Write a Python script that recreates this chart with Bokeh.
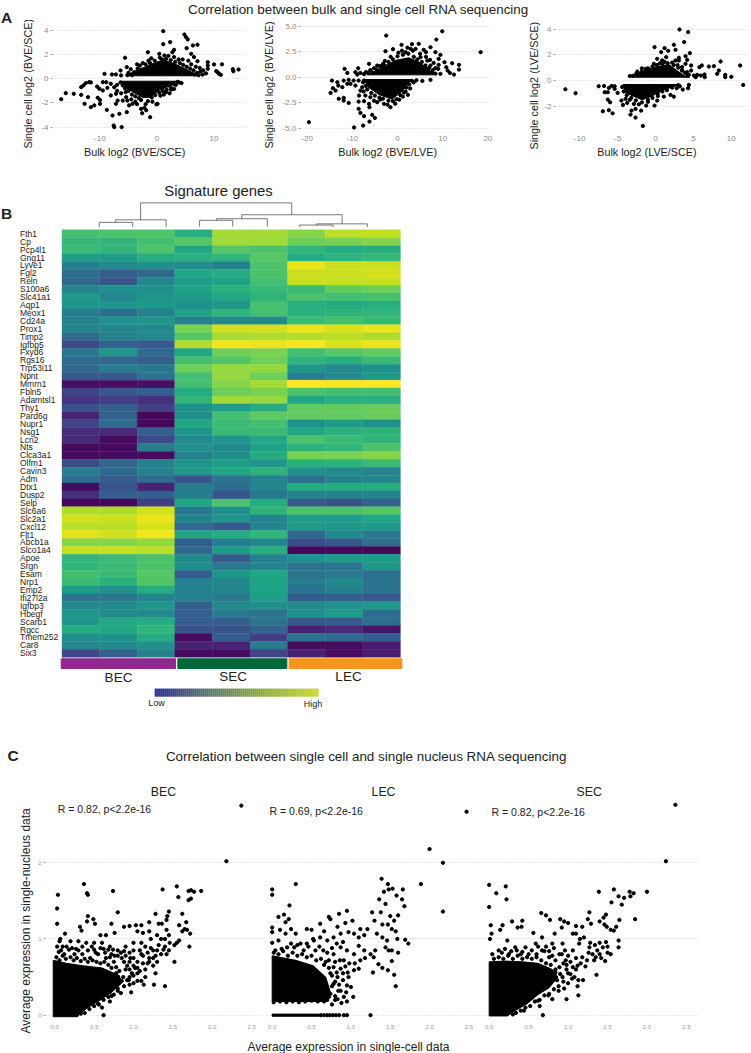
from math import pi
from bokeh.plotting import figure
from bokeh.layouts import column, row, Spacer
from bokeh.models import Range1d, FixedTicker, Label, ColumnDataSource, LinearColorMapper, Title
from bokeh.palettes import Viridis256
from bokeh.core.properties import value
from bokeh.embed import file_html
from bokeh.resources import INLINE

FONT = "Liberation Sans"

# ---------- Panel A data; masses = solid dense clouds
a1_pts = [(1.1,3.95),(4.8,3.67),(5.1,3.45),(5.4,3.26),(2.3,3.04),(1.1,2.87),(6.3,2.76),(7.1,2.82),(5.2,2.54),(3,2.4),(2.7,2.2),(-1.6,2.2),(6,2.07),(.4,2.07),(1.3,1.93),(6.5,1.8),(-5.6,1.74),(7.1,1.46),(8.9,1.38),(8.9,1.1),(8.9,.83),(10,1.19),(11.4,1.2),(10.4,.64),(10.9,.41),(11.2,.33),(10.6,.55),(13.3,.8),(13.4,.63),(14.3,.77),(-9.2,.41),(-7.9,.36),(-7.2,.36),(-6.4,.69),(-6.3,.28),(-5.3,.97),(-4.6,.8),(-5,.5),
 (-16.8,-1.69),(-16,-1.19),(-14.6,-1.24),(-13.3,-.69),(-13.3,-1.33),(-12.9,-.55),(-12.5,-.36),(-11.9,-.28),(-11.6,-.3),(-12.7,-2.07),(-12.1,-1.52),(-11.6,-2.35),(-11,-2.2),(-10,-2.07),(-10.4,-1.57),(-10,-1.75),(-9.5,-.28),(-8.9,-.28),(-10.5,-.64),(-10.1,-.83),(-9.5,-.97),(-8.7,-.75),(-8.1,-.41),(-8.8,-2.57),(-7.8,-3.04),(-7.6,-3.87),(-7.5,-4),(-6.2,-4),(-6.6,-2.9),(-5.3,-2.76),(-7.2,-2.07),(-6.9,-1.8),(-6,-1.8),(-4.9,-2.2),(-8.1,-1.38),(-7.2,-1.24),(-5.4,-1.52),(-4.3,-2.07),(-2.8,-2.49),(-2.6,-2.85),(-1.9,-2.6),(-1.2,-3.18),(.1,-2.07),(-.1,-2.12),(-2.2,-2.4),(3,-.83),(2.5,-.9),
 (-7.5,-.7),(-7,-.5),(-7,-1),(-6.3,-1.2),(-5.5,-1.1),(-5.2,-1.8),(-4.5,-1.7),(-3.8,-1.9),(-3.5,-2.1),(-2,-2.1),(-.8,-1.9),(.6,-1.4),(1.2,-1.3),(1.6,-1.1),(2.2,-1.2),(3.3,-.5),(3.9,-.3),(4.3,-.35),(-3.5,1.2),(-3,1.1),(-2.5,1.3),(-1.5,1.5),(-1,1.7),(.5,1.75),(2,1.9),(3,1.8),(3.8,1.6),(4.5,1.6),(5.5,1.5),(6,1.2),(6.8,1),(7.5,.9),(8.1,.7),(8,.35),(7.6,.6),(8.6,.45),
 (-5.2,.3),(-4.4,.3),(-4,.55),(-3.4,.85),(-2.8,.75),(-2,1.2),(-1.2,1.3),(-.4,1.5),(.9,1.6),(1.6,1.65),(2.4,1.55),(3.2,1.4),(4,1.3),(4.6,1.15),(5.2,1),(5.8,.85),(6.4,.7),(7,.5),(6.6,.35),(7.3,.3),(5.6,.45),(-6.4,-.3),(-6,-.55),(-5.6,-.8),(-5,-1),(-4.4,-1.3),(-3.8,-1.45),(-3.2,-1.6),(-2.8,-1.75),(-1.6,-1.85),(-.9,-1.55),(-.3,-1.35),(.4,-1.15),(1,-1),(1.7,-.9),(2.4,-.7),(3,-.45),(3.6,-.25)]
a1_upper = [(-5.2,.25),(-4.3,.55),(-3,.8),(-2,1),(-.5,1.3),(1,1.55),(2.5,1.35),(4,1.05),(5.5,.7),(6.5,.45),(7,.25)]
a1_lower = [(-6.3,-.2),(-6,-.55),(-4,-1.15),(-2.5,-1.55),(-1.3,-1.55),(.4,-.95),(2.5,-.55),(3.4,-.2)]

a2_pts = [(9.9,4.5),(-2.5,4.08),(8.6,3.69),(18.4,2.45),(-2.65,2.55),(-1,2.75),(.9,3.17),(3.2,3.24),(4.7,3.27),(7.3,2.94),(5.8,2.68),(6.3,2.45),(8.4,2.45),(9.5,2.19),(9.1,1.8),(10.4,1.47),(12.1,1.37),(13.6,1.21),(13.6,.75),(10.8,.98),(11.1,.65),(11.6,.42),(12.5,.26),(9.1,1.21),(9,.82),(9.5,.33),(-6.3,1.31),(-8.7,.88),(-11.7,.82),(-11.1,.42),(-9.3,.49),(-8.9,.26),(-8.2,.42),(-5.2,.88),(-4.5,1.14),(-3.2,1.31),
 (-14.5,-.33),(-13.3,-.49),(-11.9,-.33),(-10.8,-.26),(-9.7,-.33),(-8.6,-.33),(-7.4,-.33),(-13.1,-.82),(-14.3,-1.08),(-14.8,-1.54),(-13.7,-1.31),(-12.2,-.98),(-11.1,-.65),(-10.4,-.65),(-9.3,-.82),(-7.8,-.98),(-13,-2.12),(-11.9,-2.03),(-10.8,-2.52),(-11.9,-2.29),(-8.6,-2.39),(-7.4,-2.35),(-6.3,-2.61),(-6.2,-2.94),(-8.6,-3.1),(-8.2,-3.5),(-7.4,-3.82),(-5.6,-3.69),(-5,-3.99),(-6.2,-4.35),(-7.6,-4.74),(-9.6,-4.93),(-19.6,-4.41),(-1.55,-2.94),(-3,-2.61),(-4.5,-2.45),(2.3,-1.73),(5.5,-.36),(7.3,-.26),(-7.1,-1.8),(-8.2,-1.31),(-6,-1.96),
 (7.3,1.14),(6.6,1.63),(5.1,1.96),(7.7,.49),(6.6,.49),(5.8,.98),(4,2.78),(2.9,2.78),(1.8,2.45),(3.4,2.6),(5,2.3),(6.3,2),(7.2,1.7),(8,1.4),(8.4,.9),(-7,.5),(-6,.7),(-4,1.1),(-2.8,1.6),(-1.5,2),(.2,2.4),(1,2.6),(2.2,2.9),(-8.5,-1.8),(-7.5,-1.4),(-5.2,-2.3),(-3.8,-2.2),(-2.2,-2.7),(-.5,-2.6),(.4,-2.2),(1.2,-1.9),(1.8,-1.4),(2.8,-1.1),(3.6,-.5),(4.2,-.3),
 (-7.4,.3),(-6.5,.45),(-5.5,.45),(-4.6,.75),(-3.6,1.05),(-3,1.2),(-2,1.5),(-1,1.75),(0,2.05),(1.2,2.2),(2.4,2.3),(3.6,2),(4.4,1.75),(5.4,1.5),(6.2,1.15),(7,.9),(7.8,.7),(8.4,.35),(-7.6,-.5),(-7,-.85),(-6.7,-1.2),(-5.8,-1.55),(-5,-1.8),(-4,-2),(-3.2,-2.1),(-2,-2.3),(-1,-2.35),(-.2,-2.15),(.6,-1.75),(1.4,-1.5),(2,-1),(2.6,-.7),(3.2,-.35)]
a2_upper = [(-6.8,.23),(-4.9,.6),(-2.65,1.15),(-.44,1.65),(2.5,1.9),(4.7,1.5),(7,.75),(8,.23)]
a2_lower = [(-7.4,-.23),(-6.4,-1),(-4.1,-1.7),(-1.2,-2.15),(1.2,-1.3),(3,-.23)]

a3_pts = [(3.17,3.97),(4.3,3.77),(3.78,2.99),(-.13,2.6),(2.42,2.78),(2.64,2.39),(1.19,2.52),(.75,2.21),(1.67,2.31),(4.53,2.13),(3.96,1.9),(3.08,1.77),(1.41,1.82),(.22,1.69),(.88,1.56),(4.18,1.61),(3.08,1.56),(2.64,1.56),(3.96,1.3),(4.7,1.17),(3.5,.78),(4.18,.65),(4.7,.78),(8.58,1.48),(7.7,1.12),(7.04,1.09),(8.36,.78),(8.14,.52),(6.11,1.17),(5.8,1.04),(6.46,.47),(5.98,.39),(6.5,.26),(9.2,.44),(9.2,.26),(10,.29),(11.17,1.17),(11.57,-.34),(-11.9,-.68),(-10.55,-.99),(-7.5,-.44),(-6.8,-.42),(-6.16,-.57),(-5.8,-.42),(-5.4,-.44),(-5.4,-.65),(-6.7,-.91),(-6.3,-.91),(-5,-.96),(-6.3,-1.48),(-6,-1.69),(-6.95,-2.39),(-6.16,-2.31),(-5.67,-2.55),(-4.5,-1.56),(-4.3,-1.9),(-3.74,-1.74),(-3.96,-1.43),(-3.17,-2.34),(-3.3,-2.65),(-2.64,-2.88),(-1.67,-3.53),(-1.9,-2.34),(-2.64,-2.21),(-2.86,-1.82),(-1.23,-1.95),(-.13,-1.95),(.22,-1.56),(1.1,-1.25),(1.98,-1.12),(2.42,-1.25),(3.6,-.7),(4.4,-.34),(4.3,-.6),
 (-3,.36),(-2.4,.7),(-1.3,.91),(-.22,1.3),(5.06,.39),(5.3,.26),(5.5,.44),(-3.4,.35),(-1.8,.95),(.6,1.35),(1.2,1.45),(2.2,1.4),(2.9,1.2),(3.5,1.05),(4.4,.45),(-3.4,-1.5),(-2.2,-1.85),(-1,-1.65),(.3,-1.2),(2.8,-.6),(3.2,-.45),
 (-2.6,.5),(-1.8,.7),(-1,.95),(-.4,1.1),(.2,1.2),(.9,1.3),(1.6,1.35),(2.4,1.2),(3,1),(3.5,.8),(3.9,.6),(4.2,.4),(-4.4,-.5),(-4.2,-.85),(-3.8,-1.15),(-3.2,-1.35),(-2.6,-1.55),(-1.8,-1.7),(-1,-1.5),(-.4,-1.35),(.3,-1),(.9,-.85),(1.5,-.75),(2.2,-.55),(3,-.35)]
a3_upper = [(-3,.26),(-2.2,.6),(-.44,1),(1.76,1.25),(2.9,.75),(4,.3),(4.5,.26)]
a3_lower = [(-4.3,-.31),(-4,-.95),(-1.76,-1.5),(-.44,-1.2),(.88,-.75),(3.3,-.31)]

a_y_ticks = [[-4,-2,0,2,4], [-5,-2.5,0,2.5,5], [-2,0,2,4]]
a_y_labels = [["-4","-2","0","2","4"], ["-5.0","-2.5","0.0","2.5","5.0"], ["-2","0","2","4"]]
a_x_ticks = [[-10,0,10], [-20,-10,0,10,20], [-10,-5,0,5,10]]
a_x_labels = [["-10","0","10"], ["-20","-10","0","10","20"], ["-10","-5","0","5","10"]]

# ---------- Panel B data
genes = ["Fth1","Cp","Pcp4l1","Gng11","Lyve1","Fgl2","Reln","S100a6","Slc41a1","Aqp1","Meox1","Cd24a","Prox1","Timp2","Igfbp5","Fxyd6","Rgs16","Trp53i11","Npnt","Mmrn1","Fbln5","Adamtsl1","Thy1","Pard6g","Nupr1","Nsg1","Lcn2","Nts","Clca3a1","Olfm1","Cavin3","Adm","Dtx1","Dusp2","Selp","Slc6a6","Slc2a1","Cxcl12","Flt1","Abcb1a","Slco1a4","Apoe","Srgn","Esam","Nrp1","Emp2","Ifi27l2a","Igfbp3","Hbegf","Scarb1","Rgcc","Tmem252","Car8","Six3"]
bec_values = [(70,72,73),(67,66,70),(68,66,72),(56,55,62),(43,47,50),(36,30,33),(33,26,46),(45,50,50),(54,46,52),(52,52,54),(42,36,44),(44,50,53),(45,46,48),(34,44,47),(22,31,28),(40,53,34),(35,33,30),(34,42,40),(28,28,38),(4,4,4),(20,27,30),(16,18,14),(25,30,19),(10,31,2),(20,36,2),(13,12,30),(12,3,22),(3,3,42),(3,3,3),(22,33,44),(42,34,44),(36,30,36),(3,26,10),(14,30,30),(2,2,18),(88,88,93),(93,92,97),(90,90,94),(95,93,98),(82,82,84),(92,92,90),(66,68,72),(66,68,72),(70,68,74),(68,64,73),(55,49,62),(38,40,45),(47,48,53),(53,48,48),(52,60,62),(62,60,66),(50,51,62),(47,48,50),(21,31,44)]
sec_values = [(63,86,86),(74,86,86),(60,74,72),(64,66,74),(49,43,72),(60,62,72),(55,58,70),(58,64,67),(55,60,65),(50,53,71),(58,66,70),(43,47,47),(80,93,93),(74,87,88),(88,98,97),(60,78,80),(70,73,78),(78,84,84),(70,84,78),(70,82,87),(62,78,80),(66,86,84),(50,56,62),(50,70,75),(60,68,70),(52,68,68),(48,52,60),(50,48,58),(44,50,62),(53,56,52),(54,60,65),(26,38,45),(42,36,45),(43,26,40),(60,72,62),(40,50,65),(46,52,45),(34,28,45),(59,62,66),(30,43,46),(34,55,63),(48,28,43),(50,40,45),(30,53,60),(44,46,58),(44,46,58),(44,40,56),(30,48,50),(30,41,38),(30,30,38),(26,26,32),(3,30,18),(10,10,42),(3,3,20)]
lec_values = [(82,90,91),(78,80,82),(66,62,63),(62,65,67),(97,92,92),(92,92,93),(92,91,92),(68,76,78),(72,70,71),(63,62,63),(64,65,66),(68,70,67),(97,94,97),(89,90,88),(99,94,97),(70,74,76),(65,63,68),(53,47,50),(42,48,54),(100,99,100),(72,70,70),(60,63,63),(76,76,77),(76,76,77),(50,55,50),(59,64,65),(72,68,65),(64,66,72),(80,80,82),(63,64,68),(50,48,45),(36,45,46),(62,62,62),(45,45,45),(28,24,32),(72,72,74),(55,55,60),(54,53,54),(34,48,40),(24,27,37),(2,2,2),(50,55,55),(38,38,53),(38,40,37),(42,48,38),(38,44,38),(30,30,28),(48,50,54),(50,55,36),(28,28,37),(10,12,6),(38,34,30),(3,3,8),(10,3,8)]
# dendrogram links: (left x, right x, join height, left leg bottom, right leg bottom), x in column units, heights in row units
dendro_links = [(.99,1.88,-.94,-.35,-.35),(1.42,2.77,-1.26,-.94,-.35),(2.09,6.11,-3.4,-1.26,-1.9),
                (3.66,4.54,-1.2,-.4,-.4),(4.11,5.46,-1.4,-1.2,-.4),(6.32,7.21,-.6,-.35,-.35),(6.77,8.12,-.75,-.6,-.35),(4.78,7.45,-1.9,-1.4,-.75)]
groups = ["BEC","SEC","LEC"]
group_colors = ["#92278f","#006838","#f7941d"]
legend_stops = ["#2e3192","#5f7a70","#8fae45","#c8d92a"]

# ---------- Panel C data
c_titles = ["BEC","LEC","SEC"]
c_r_text = ["R = 0.82, p<2.2e-16","R = 0.69, p<2.2e-16","R = 0.82, p<2.2e-16"]
c_x_ticks = [0,.5,1,1.5,2,2.5]
c_x_labels = ["0.0","0.5","1.0","1.5","2.0","2.5"]
c_y_ticks = [0,1,2]
c_y_labels = ["0","1","2"]

c1_pts = [(2.37,2.75),(2.18,2.02),(.04,1.58),(.37,1.72),(.41,1.6),(.42,1.58),(.74,1.63),(.03,1.4),(.03,1.2),(.42,1.3),(.49,1.26),(.41,1.23),(.51,1.2),(.8,1.35),(.32,1.16),(.34,1.11),(.13,1.07),(.07,1),(.06,.97),(.58,1.05),(.65,1.05),(.72,1.2),(.76,1.08),(.88,1.16),(.95,1.17),(1.03,1.18),(1.05,1.1),(1.1,1.18),(1.12,1.08),(1.2,1.22),(1.2,1.1),(1.28,1.33),(1.32,1.2),(1.36,1.2),(1.37,1.65),(1.42,1.12),(1.45,1.05),(1.42,1.25),(1.43,1.3),(1.45,1.36),(1.55,1.69),(1.57,1.55),(1.62,1.33),(1.7,1.63),(1.73,1.64),(1.77,1.62),(1.86,1.63),(1.73,1.53),(1.7,1.51),(1.67,1.22),(1.58,1.18),(1.62,1.1),(1.65,1.13),(1.68,1.12),(1.72,1.07),(1.71,.9),(1.58,.98),(1.55,.95),(1.52,.92),(1.52,.7),(1.4,.38),(1.26,.4),(1.28,.55),(1.25,.65),(1.2,.7),(1.13,.4),(1.1,.45),(1,.42),(.95,.4),(.97,.3),(.84,.29),(.72,.25),(.62,0),(.55,.15),(.6,.1),(.7,.18),
 (.9,.9),(.95,.7),(1,.85),(1.05,.7),(1.1,.8),(1.15,.9),(1.2,.75),(1.25,.85),(1.3,.85),(1.35,.8),(1.4,.9),(1.45,.85),(1.35,1),(1.4,1),(1.3,1.05),(1.22,1),(1.1,.95),(1,.95),(.95,.6),(1.05,.55),(1.15,.6),(1.3,.7),(.8,.85),(.7,.9),(.6,.95),(.5,.95),(.4,.95),(.3,.97),(.2,.97),(.15,.9),(.1,.9),(.03,.9),(.25,.8),(.35,.8),(.45,.75),(.55,.8),(.65,.75),(.75,.7),(.85,.75),(.9,.6),(.85,.45),(.8,.35),(.7,.3),(.95,.5),(1.05,.45),(1.15,.5),(.5,.86),(.3,.85),(.05,.83),(.62,.87),(.72,.8),(.9,.78),(1,.65),(1.12,.68),
 (.02,.76),(.06,.72),(.1,.78),(.14,.74),(.2,.76),(.24,.72),(.28,.75),(.33,.71),(.38,.74),(.42,.7),(.48,.72),(.53,.7),(.58,.68),(.63,.7),(.68,.66),(.72,.62),(.78,.63),(.82,.58),(.87,.5),(.92,.46),(.88,.38),(.8,.32),(.75,.27),(.68,.24),(.62,.2),(.56,.14),(.5,.12),(.44,.08),(.38,.03),(.33,.02),(.28,0),(.98,.55),(1.02,.62),(1.08,.58),(.78,.55),(.92,.65),
 (.08,.85),(.12,.8),(.18,.86),(.22,.88),(.27,.87),(.35,.9),(.42,.85),(.47,.9),(.52,.82),(.58,.88),(.64,.82),(.68,.86),(.74,.86),(.8,.78),(.84,.82),(.88,.84),(.95,.82),(1,.75),(1.08,.85),(1.12,.78),(1.18,.82),(1.22,.88),(1.28,.78),(1.32,.92),(1.38,.86),(1.42,.8),(1.46,.95),(1.25,.75),(1.18,.68),(.94,.46),(1,.52),(.88,.7),(.96,.75),(1.05,.62),(.7,.76),(.76,.78)]
c1_mass = [(-.02,-.02),(.27,-.02),(.42,.1),(.58,.2),(.72,.3),(.85,.42),(.82,.52),(.6,.62),(.35,.65),(.15,.68),(-.02,.72)]

c2_pts = [(2.47,2.67),(2,2.18),(2.17,2),(1.89,1.72),(2.17,1.36),(1.39,1.79),(1.47,1.72),(1.53,1.66),(1.48,1.65),(1.42,1.62),(1.66,1.65),(1.58,1.57),(1.65,1.52),(1.68,1.43),(1.36,1.52),(1.44,1.46),(1.38,1.35),(1.6,1.31),(1.55,1.24),(1.5,1.3),(1.47,1.19),(1.57,1.1),(1.52,1.13),(1.4,1.19),(1.69,.99),(1.73,.94),(1.59,1),(1.6,.82),(1.52,.85),(1.48,.85),(1.44,.89),(1.52,.71),(1.47,.59),(1.4,.62),(1.55,.53),(1.57,.38),(1.35,.67),(1.46,.98),(1.4,1.02),(1.33,1.07),(1.31,.85),
 (0,1.65),(0,1.58),(.3,1.72),(.22,1.44),(.15,1.32),(.08,1.29),(.21,1.26),(.17,1.22),(0,1.15),(0,1.09),(.1,1.12),(.17,1.07),(.24,1.13),(.3,1.07),(0,.95),(.08,.98),(.44,1.13),(.5,1.12),(.52,1),(.61,1.2),(.72,1.29),(.74,1.26),(.66,1.1),(.85,1.33),(.95,1.37),(1.02,1.24),(.93,1.21),(.83,1.16),(1.12,1.13),(1.21,1.13),(1.27,1.35),(1.3,1.24),(1.17,1.05),(1.1,1.02),(1.04,1.07),(.97,1.09),(.87,1.07),(.78,1.02),(.7,.98),(.61,1.02),(.53,.98),(.44,.94),(.36,.94),(.28,.89),(.19,.89),(.78,.8),(.87,.89),(.95,.85),(1.04,.8),(1.1,.91),(1.17,.85),(1.25,.8),(1.29,.76),(1.28,.56),(1.1,.61),(1.04,.59),(.97,.5),(.95,.39),(1,.37),(1.03,.24),(.95,.18),(.91,.24),(.87,.32),(.78,.41),(.83,.5),(.78,.63),(.91,.72),(.72,.72),(.87,.61),(.61,.24),(.74,.28),(.83,.21),(.65,.85),(.55,.85),(.4,.85),(.12,.87),(.04,.85),(.68,.7),(.8,.7),(.74,.55),(.85,.4),(.8,.25),(.7,.2),(.9,.55),
 (.02,.82),(.08,.8),(.14,.84),(.2,.78),(.26,.82),(.32,.78),(.38,.8),(.44,.76),(.5,.78),(.56,.72),(.62,.74),(.66,.66),(.72,.62),(.76,.52),(.8,.44),(.84,.32),(.76,.38),(.72,.24),(.66,.18),(.58,.18),(.5,.19),(.42,.18),(.34,.17),(.26,.18),(.18,.17),(.1,.18),(.02,.17),
 (.86,.72),(.93,.64),(.98,.68),(.9,.46),(.94,.3),(.88,.16),(.96,.56),(1.05,.68),(1.12,.72),(1.18,.75),(.7,.82),(.76,.88),(.82,.94),(.9,.96),(.6,.9),(.46,.9),(.32,.92),(.24,.94),(.82,.56),(.8,.2),(.76,.14),
 (.62,0),(.66,0),(.7,0),(.73,0),(.77,0),(.81,0),(.85,0),(.91,0),(.95,0),(1.25,0)]
c2_mass = [(0,.18),(.68,.18),(.74,.3),(.68,.5),(.52,.65),(.3,.72),(0,.78)]
c2_zero_band = [(0,-.014),(.6,-.014),(.6,.014),(0,.014)]

c3_pts = [(2.36,2.76),(2.24,2.02),(0,1.71),(.09,1.6),(.21,1.69),(.22,1.52),(0,1.42),(.02,1.18),(.17,1.18),(.14,1.12),(.03,1.07),(.01,1),(.29,1.23),(.42,1.24),(.36,1.15),(.41,1.16),(.56,1.08),(.66,1.34),(.72,1.31),(.77,1.25),(.9,1.26),(.95,1.23),(1,1.21),(.92,1.15),(.83,1.07),(1.1,1.17),(1.06,1.07),(1.1,1.07),(1.18,1.16),(1.2,1.02),(1.25,1.26),(1.27,1.35),(1.29,1.2),(1.39,1.62),(1.58,1.65),(1.55,1.48),(1.64,1.56),(1.68,1.45),(1.71,1.54),(1.78,1.62),(1.83,1.6),(1.79,1.56),(2,1.62),(1.85,1.26),(1.48,1.32),(1.45,1.28),(1.4,1.23),(1.46,1.19),(1.49,1.16),(1.65,1.25),(1.61,1.16),(1.54,1.12),(1.58,1.11),(1.64,.98),(1.64,.89),(1.54,.8),(1.48,.96),(1.44,.89),(1.37,.85),(1.35,.76),(1.33,.72),(1.47,.71),(1.36,.53),(1.22,.64),(1.12,.65),(1.13,.46),(1.19,.46),(1.12,.38),(1.13,.26),(.98,.21),(.8,.21),(.75,.26),(.68,0),(.64,.12),(.62,.19),(.44,.06),(.88,.32),(1.03,.54),(1.06,.63),(.97,.72),(.89,.8),(1.06,.85),(1.14,.94),(1.27,.89),(1.31,.8),(1.18,.76),(.93,.94),(.8,.94),(.67,1.02),(.59,.94),(.46,.89),(.33,.89),(.23,.98),(.12,.85),(.04,.8),(.25,.8),(.42,.83),(.67,.85),(.76,.76),(.89,.63),(.93,.5),(.86,.46),(.5,.8),(.6,.8),(.72,.9),(.84,.72),(.98,.6),(1,.42),(.95,.35),(.8,.78),(1.1,.75),(1.4,.8),(1.5,.9),(1.28,.95),(1.15,1),
 (.06,.74),(.12,.76),(.18,.74),(.24,.78),(.3,.74),(.36,.78),(.42,.74),(.48,.76),(.54,.74),(.6,.76),(.66,.72),(.72,.68),(.78,.66),(.84,.6),(.9,.54),(.94,.44),(.88,.38),(.82,.34),(.76,.28),(.7,.26),(.64,.2),(.58,.18),(.52,.12),(.46,.1),(.4,.06),(.34,.03),(.3,.01),(1,.55),(1.05,.48),(.98,.66),
 (.16,.82),(.2,.87),(.28,.84),(.35,.85),(.4,.8),(.54,.85),(.62,.9),(.7,.84),(.76,.84),(.82,.88),(.92,.8),(.96,.85),(1,.78),(1.03,.7),(1.1,.6),(1.16,.68),(1.24,.72),(1.26,.82),(1.34,.92),(1.4,.95),(1.42,.75),(1.5,.82),(1.08,.5),(.94,.68),(.84,.56)]
c3_mass = [(0,-.01),(.23,-.01),(.33,.06),(.48,.15),(.62,.27),(.76,.36),(.87,.5),(.8,.6),(.62,.68),(.42,.7),(.2,.71),(0,.7)]


def put(fig, frame, text, px, py, size, color="#222222", angle=0, align="center", style="normal"):
    """Place a text at page pixel (px, py); frame = page pixel of the figure frame's left and bottom edges."""
    fig.add_layout(Label(x=px - frame[0], y=frame[1] - py, x_units="screen", y_units="screen",
                         text=text, text_font=FONT, text_font_size=f"{size}px", text_color=color, angle=angle,
                         text_align=align, text_baseline="middle", text_font_style=style))


def axis_title(fig, side, text, offset, standoff, size):
    fig.add_layout(Title(text=text, align="left", offset=offset, standoff=standoff, text_font=FONT,
                         text_font_size=f"{size}px", text_font_style="normal", text_color="#222222"), side)


def make_fig(w, h, xr, yr, left=0, right=0, top=0, bottom=0):
    return figure(width=w, height=h, x_range=Range1d(*xr), y_range=Range1d(*yr), tools="", toolbar_location=None,
                  output_backend="svg", min_border_left=left, min_border_right=right, min_border_top=top,
                  min_border_bottom=bottom, outline_line_color=None, background_fill_color="white",
                  border_fill_color="white")


def style_axes(p, xt, xl, yt, yl, size, color, show_y=True):
    p.xgrid.visible = False
    p.ygrid.ticker = FixedTicker(ticks=yt)
    p.ygrid.grid_line_color = "#c8c8c8"
    p.ygrid.grid_line_dash = "1 2"
    p.ygrid.grid_line_width = 0.8
    for ax, t, l in ((p.xaxis[0], xt, xl), (p.yaxis[0], yt, yl)):
        ax.ticker = FixedTicker(ticks=t)
        ax.major_label_overrides = dict(zip(t, l))
        ax.axis_line_color = None
        ax.minor_tick_line_color = None
        ax.major_label_text_font = FONT
        ax.major_label_text_font_size = f"{size}px"
        ax.major_label_text_color = color
        ax.major_label_standoff = 2
        ax.major_tick_in = 0
    p.xaxis[0].major_tick_line_color = None
    p.xaxis[0].major_tick_out = 0
    p.yaxis[0].major_tick_out = 2
    p.yaxis[0].major_tick_line_color = "#999999"
    p.yaxis[0].visible = show_y


def dots(p, pts, masses, size=3.3):
    for m in masses:
        p.patch([q[0] for q in m], [q[1] for q in m], color="black", line_width=1)
    p.scatter([q[0] for q in pts], [q[1] for q in pts], size=size, color="black")


def strip(w, h):
    s = figure(width=w, height=h, x_range=Range1d(0, 1), y_range=Range1d(0, 1), tools="", toolbar_location=None,
               output_backend="svg", min_border=0, outline_line_color=None)
    s.axis.visible = False
    s.grid.visible = False
    return s


# ---------- Letter and header strip of panel A
LETTER_W = 14
letter_a = strip(LETTER_W, 26)
put(letter_a, (0, 26), "A", 6, 17, 15.5, style="bold")
top = strip(751 - LETTER_W, 20)
put(top, (LETTER_W, 20), "Correlation between bulk and single cell RNA sequencing", 358, 9, 13.4)

# ---------- Panel A (frames run from page y 20 to 133)
specs = [
    (250 - LETTER_W, 52 - LETTER_W, 4, (-18.33, 15.7), (-4.53, 4.83), a1_pts, [a1_upper, a1_lower], "Single cell log2 (BVE/SCE)", "Bulk log2 (BVE/SCE)", 31.5, -15, 10),
    (250, 50, 10, (-21.46, 20.58), (-5.52, 5.56), a2_pts, [a2_upper, a2_lower], "Single cell log2 (BVE/LVE)", "Bulk log2 (BVE/LVE)", 37.7, -15, 9),
    (251, 55, 3, (-13.2, 12.27), (-4.12, 4.67), a3_pts, [a3_upper, a3_lower], "Single cell log2 (LVE/SCE)", "Bulk log2 (LVE/SCE)", 41.7, -16, 4),
]
a_figs = []
for i, (w, bl, br, xr, yr, pts, masses, yl, xl, xoff, yoff, ystand) in enumerate(specs):
    p = make_fig(w, 140, xr, yr, left=bl, right=br, top=0, bottom=27)
    style_axes(p, a_x_ticks[i], a_x_labels[i], a_y_ticks[i], a_y_labels[i], 8, "#8a8a8a")
    dots(p, pts, masses)
    axis_title(p, "left", yl, yoff, ystand, 10.8)
    axis_title(p, "below", xl, xoff, 0, 10.8)
    a_figs.append(p)

# ---------- Panel B
CW, RH, X0, Y0 = 37.6, 7.915, 61.5, 229.3
heat_top, heat_h = 160, 552
cols_x, rows_y, vals = [], [], []
for r in range(len(genes)):
    for c, v in enumerate(bec_values[r] + sec_values[r] + lec_values[r]):
        cols_x.append(c + .5)
        rows_y.append(r + .5)
        vals.append(v)
mapper = LinearColorMapper(palette=Viridis256, low=0, high=100)
heat = figure(width=751, height=heat_h, tools="", toolbar_location=None, output_backend="svg", min_border=0,
              outline_line_color=None,
              x_range=Range1d(-X0 / CW, (751 - X0) / CW),
              y_range=Range1d((heat_top + heat_h - Y0) / RH, (heat_top - Y0) / RH))
heat.axis.visible = False
heat.grid.visible = False
heat.rect(x="x", y="y", width=1, height=1,
          source=ColumnDataSource(dict(x=cols_x, y=rows_y, v=vals)),
          fill_color={"field": "v", "transform": mapper}, line_color={"field": "v", "transform": mapper}, line_width=.4)
heat.text(x=[(19.5 - X0) / CW] * len(genes), y=[r + .5 for r in range(len(genes))], text=genes,
          text_font=value(FONT), text_font_size="8.5px", text_baseline="middle", text_align="left", text_color="#1a1a1a")
xs, ys = [], []
for l, rr, h, bl, br in dendro_links:
    xs.append([l, l, rr, rr])
    ys.append([bl, h, h, br])
heat.multi_line(xs, ys, line_color="#555555", line_width=.8)
heat.quad(left=[-.02, 3.08, 6.04], right=[3.02, 5.98, 9.04], top=[54.2, 54.2, 54.2], bottom=[55.43, 55.43, 55.43],
          color=group_colors)
fr = (0, heat_top + heat_h)
for g, cx, cy in zip(groups, (118, 232.6, 348), (677.3, 675.5, 675.5)):
    put(heat, fr, g, cx, cy, 13.5)

def lerp(stops, t):
    t *= len(stops) - 1
    i = min(int(t), len(stops) - 2)
    a, b = stops[i], stops[i + 1]
    f = t - i
    ch = [round(int(a[j:j + 2], 16) * (1 - f) + int(b[j:j + 2], 16) * f) for j in (1, 3, 5)]
    return "#%02x%02x%02x" % tuple(ch)
steps = 82
lx0, lx1 = (154.3 - X0) / CW, (318 - X0) / CW
edges = [lx0 + (lx1 - lx0) * i / steps for i in range(steps + 1)]
heat.quad(left=edges[:-1], right=edges[1:], top=[(688.3 - Y0) / RH] * steps, bottom=[(696 - Y0) / RH] * steps,
          color=[lerp(legend_stops, i / (steps - 1)) for i in range(steps)], line_width=.3)
put(heat, fr, "Low", 156, 702, 9)
put(heat, fr, "High", 312.5, 703, 9)
put(heat, fr, "Signature genes", 218, 190, 14.9)
put(heat, fr, "B", 6, 212.7, 15.5, style="bold")

# ---------- Header strip of panel C
mid = strip(751, 73)
put(mid, (0, 785), "Correlation between single cell and single nucleus RNA sequencing", 366, 756, 13.4)
put(mid, (0, 785), "C", 12.5, 755, 15.5, style="bold")

# ---------- Panel C (frames run from page y 785 to 1022)
C_BOTTOM = 1022
c_specs = [
    (0, 262, 45, 0, (-.118, 2.639), c1_pts, [c1_mass], 163, 57.3, 808.7),
    (262, 218, 0, 0, (-.123, 2.647), c2_pts, [c2_mass, c2_zero_band], 383, 269, 810),
    (480, 271, 0, 54, (-.11, 2.64), c3_pts, [c3_mass], 588.7, 491, 811),
]
c_figs = []
for i, (ox, w, bl, br, xr, pts, masses, tx, rx, ry) in enumerate(c_specs):
    p = make_fig(w, 252, xr, (-.096, 3.014), left=bl, right=br, top=0, bottom=15)
    style_axes(p, c_x_ticks, c_x_labels, c_y_ticks, c_y_labels, 6, "#9a9a9a", show_y=(i == 0))
    dots(p, pts, masses)
    fr = (ox + bl, C_BOTTOM)
    put(p, fr, c_titles[i], tx, 791.5, 12.3)
    put(p, fr, c_r_text[i], rx, ry, 10.5, align="left")
    if i == 0:
        axis_title(p, "left", "Average expression in single-nucleus data", -11, 6, 12)
    c_figs.append(p)

bottom = strip(751, 16)
put(bottom, (0, 1053), "Average expression in single-cell data", 348, 1046, 12)

panel_a = row(column(letter_a, Spacer(width=LETTER_W, height=134), spacing=0),
              column(top, row(*a_figs, spacing=0), spacing=0), spacing=0)
page = column(panel_a, heat, mid, row(*c_figs, spacing=0), bottom, spacing=0)
open("out.html", "w").write(file_html(page, INLINE))
